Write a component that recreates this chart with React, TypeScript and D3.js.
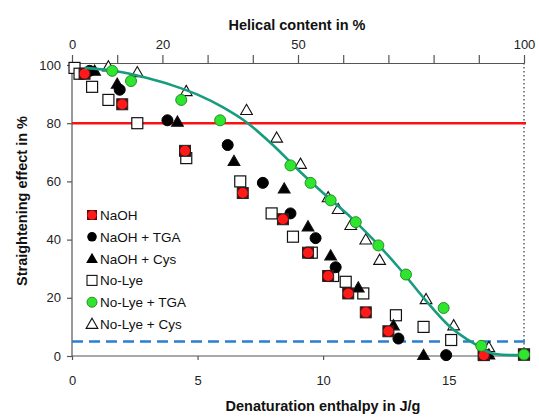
import React, { useEffect, useRef } from "react";
import { select, scaleLinear, axisLeft, axisTop, axisBottom, line, curveMonotoneX, symbol, symbolTriangle } from "d3";

const W = 539;
const H = 419;

// [enthalpy J/g, straightening %]
const naoh = [[0.5, 97], [2.0, 86.5], [4.5, 70.5], [6.8, 56], [8.4, 47], [9.4, 35.5], [10.2, 27.5], [11.0, 21.5], [11.7, 15], [12.6, 8.5], [16.4, 0.3], [18.0, 0.5]];
const naohTga = [[0.7, 98], [1.9, 91.5], [3.8, 81], [6.2, 72.5], [7.6, 59.5], [8.7, 49], [9.7, 40.5], [10.5, 30.5], [13.0, 6], [14.9, 0.3]];
const naohCys = [[0.9, 98], [1.8, 93.5], [4.2, 80.5], [6.45, 67], [8.45, 57.5], [9.4, 44.5], [10.3, 34.5], [11.4, 23.5], [12.8, 10.5], [14.0, 0.3], [16.6, 0.5]];
const noLye = [[0.1, 99], [0.3, 97], [0.8, 92.5], [1.45, 88], [2.6, 80], [4.55, 68], [6.7, 60], [7.95, 49], [8.8, 41], [9.55, 35.5], [10.4, 27.5], [10.9, 25.5], [11.6, 21.5], [12.9, 14], [14.0, 10], [15.1, 5.5], [16.4, 0.5], [18.0, 0.5]];
const noLyeTga = [[1.6, 98], [2.35, 94.5], [4.35, 88], [5.9, 81], [8.7, 65.5], [9.5, 59.5], [10.3, 53.5], [11.3, 46], [12.2, 38], [13.3, 28], [14.8, 16.5], [16.3, 3.5], [18.0, 0.5]];
const noLyeCys = [[1.45, 99.5], [2.6, 97.5], [4.55, 91], [6.95, 84.5], [8.15, 75], [9.1, 66], [10.2, 54.5], [10.6, 50.5], [11.1, 45], [11.7, 40], [12.25, 33], [14.1, 19.5], [15.2, 10.5], [16.6, 3]];
const fitCurve = [[0.5, 99], [2, 97.5], [3, 95.5], [4, 93], [5, 89.8], [6, 85.5], [7, 80], [8, 72.5], [9, 64], [10, 56], [11, 48.5], [12, 40], [13, 30.5], [14, 20], [15, 10.5], [16, 4.3], [16.8, 0.8], [17.5, 0.3], [18, 0.3]];

const yTicks = [0, 20, 40, 60, 80, 100];
const xTicks = [0, 5, 10, 15];
const helixTicks = [0, 10, 20, 30, 40, 50, 60, 70, 80, 90, 100];
const helixLabels = [0, 20, 50, 100];
const legendNames = ["NaOH", "NaOH + TGA", "NaOH + Cys", "No-Lye", "No-Lye + TGA", "No-Lye + Cys"];
const thresholdHigh = 80;
const thresholdLow = 5;

const FONT = "'Liberation Sans', Arial, sans-serif";

export default function App() {
  const svgRef = useRef<SVGSVGElement>(null);

  useEffect(() => {
    const svg = select(svgRef.current);
    svg.selectAll("*").remove();

    const x = scaleLinear().domain([0, 18]).range([72, 524]);
    const xTop = scaleLinear().domain([0, 100]).range([72, 524]);
    const y = scaleLinear().domain([0, 100]).range([356, 65]);

    // axes
    const gl = svg.append("g").attr("transform", "translate(72,0)")
      .call(axisLeft(y).tickValues(yTicks).tickSize(5).tickPadding(6).tickSizeOuter(0));
    gl.select(".domain").attr("d", "M0,356V63");
    const gt = svg.append("g").attr("transform", "translate(0,63)")
      .call(axisTop(xTop).tickValues(helixTicks).tickSize(8).tickPadding(6).tickSizeOuter(0)
        .tickFormat((d: any) => (helixLabels.includes(d) ? String(d) : "")));
    const gb = svg.append("g").attr("transform", "translate(0,356)")
      .call(axisBottom(x).tickValues(xTicks).tickSize(4).tickPadding(16).tickSizeOuter(0));
    gb.select(".domain").attr("d", "M72,0H528");
    [gl, gt, gb].forEach((g) => {
      g.selectAll("path, line").attr("stroke", "#555").attr("stroke-width", 1.2);
      g.selectAll("text").attr("font-family", FONT).attr("font-size", 13).attr("fill", "#222");
    });

    // 100% helical dotted line
    svg.append("line").attr("x1", x(18)).attr("x2", x(18)).attr("y1", 63).attr("y2", 356)
      .attr("stroke", "#444").attr("stroke-width", 1.3).attr("stroke-dasharray", "1.5,2.5");

    // reference lines
    svg.append("line").attr("x1", 72).attr("x2", 526).attr("y1", y(thresholdHigh)).attr("y2", y(thresholdHigh))
      .attr("stroke", "#ff1010").attr("stroke-width", 2.5);
    svg.append("line").attr("x1", 72).attr("x2", 528).attr("y1", y(thresholdLow)).attr("y2", y(thresholdLow))
      .attr("stroke", "#2a7fd0").attr("stroke-width", 2.5).attr("stroke-dasharray", "11,6");

    const tri = symbol().type(symbolTriangle).size(60);

    const drawSquare = (g: any, data: number[][]) =>
      g.selectAll(null).data(data).join("rect")
        .attr("x", (d: number[]) => x(d[0]) - 5.5).attr("y", (d: number[]) => y(d[1]) - 5.5)
        .attr("width", 11).attr("height", 11).attr("fill", "#fff").attr("stroke", "#111").attr("stroke-width", 1.2);
    const drawTri = (g: any, data: number[][], fill: string) =>
      g.selectAll(null).data(data).join("path").attr("d", tri)
        .attr("transform", (d: number[]) => `translate(${x(d[0])},${y(d[1]) + 1})`)
        .attr("fill", fill).attr("stroke", "#111").attr("stroke-width", 1.1);
    const drawCircle = (g: any, data: number[][], fill: string, stroke: string) =>
      g.selectAll(null).data(data).join("circle")
        .attr("cx", (d: number[]) => x(d[0])).attr("cy", (d: number[]) => y(d[1]))
        .attr("r", 5.5).attr("fill", fill).attr("stroke", stroke).attr("stroke-width", 1);
    const drawNaoh = (g: any, data: number[][]) => {
      g.selectAll(null).data(data).join("rect")
        .attr("x", (d: number[]) => x(d[0]) - 5.5).attr("y", (d: number[]) => y(d[1]) - 5.5)
        .attr("width", 11).attr("height", 11).attr("fill", "#5a0a0a").attr("stroke", "#222").attr("stroke-width", 1);
      g.selectAll(null).data(data).join("circle")
        .attr("cx", (d: number[]) => x(d[0])).attr("cy", (d: number[]) => y(d[1]))
        .attr("r", 5).attr("fill", "#ff1a1a");
    };

    const gm = svg.append("g");
    drawSquare(gm.append("g"), noLye);
    drawTri(gm.append("g"), noLyeCys, "#fff");
    drawTri(gm.append("g"), naohCys, "#000");
    drawCircle(gm.append("g"), naohTga, "#000", "#000");
    drawNaoh(gm.append("g"), naoh);

    const path = line<number[]>().x((d) => x(d[0])).y((d) => y(d[1])).curve(curveMonotoneX);
    svg.append("path").datum(fitCurve).attr("d", path).attr("fill", "none")
      .attr("stroke", "#179c7d").attr("stroke-width", 2.6);

    drawCircle(svg.append("g"), noLyeTga, "#2ee62e", "#2a8a2a");

    // legend
    const lg = svg.append("g").attr("transform", "translate(92,215)");
    legendNames.forEach((name, i) => {
      const row = lg.append("g").attr("transform", `translate(0,${i * 21.8})`);
      if (i === 0) {
        row.append("rect").attr("x", -5).attr("y", -5).attr("width", 10).attr("height", 10).attr("fill", "#5a0a0a");
        row.append("circle").attr("r", 4.6).attr("fill", "#ff1a1a");
      } else if (i === 1) {
        row.append("circle").attr("r", 4.8).attr("fill", "#000");
      } else if (i === 2) {
        row.append("path").attr("d", tri).attr("transform", "translate(0,1)").attr("fill", "#000");
      } else if (i === 3) {
        row.append("rect").attr("x", -5).attr("y", -5).attr("width", 10).attr("height", 10).attr("fill", "#fff").attr("stroke", "#111").attr("stroke-width", 1.1);
      } else if (i === 4) {
        row.append("circle").attr("r", 5).attr("fill", "#2ee62e").attr("stroke", "#2a8a2a");
      } else {
        row.append("path").attr("d", tri).attr("transform", "translate(0,1)").attr("fill", "#fff").attr("stroke", "#111").attr("stroke-width", 1.1);
      }
      row.append("text").attr("x", 8).attr("y", 5).text(name)
        .attr("font-family", FONT).attr("font-size", 13.5).attr("fill", "#111");
    });

    // titles
    svg.append("text").attr("x", 297).attr("y", 30).attr("text-anchor", "middle").text("Helical content in %")
      .attr("font-family", FONT).attr("font-size", 14.5).attr("font-weight", "bold").attr("fill", "#111");
    svg.append("text").attr("x", 323).attr("y", 411).attr("text-anchor", "middle").text("Denaturation enthalpy in J/g")
      .attr("font-family", FONT).attr("font-size", 14.5).attr("font-weight", "bold").attr("fill", "#111");
    svg.append("text").attr("transform", "translate(27,201) rotate(-90)").attr("text-anchor", "middle")
      .text("Straightening effect in %")
      .attr("font-family", FONT).attr("font-size", 14.5).attr("font-weight", "bold").attr("fill", "#111");
  }, []);

  return (
    <svg ref={svgRef} width={W} height={H}
      style={{ position: "absolute", left: 0, top: 0, background: "#fff", display: "block" }} />
  );
}
